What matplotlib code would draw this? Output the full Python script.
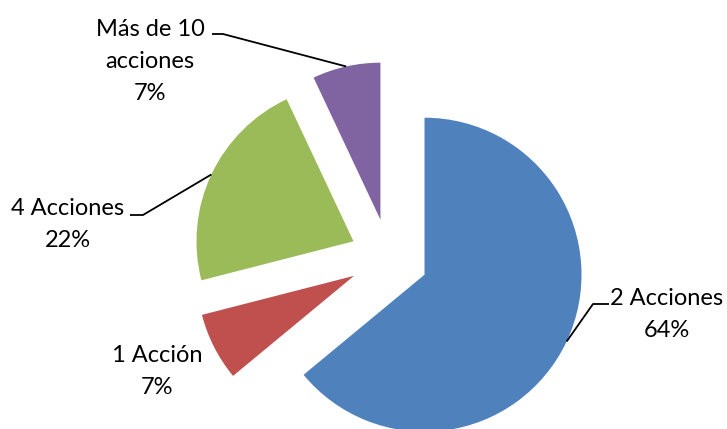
import matplotlib.pyplot as plt
import numpy as np

plt.rcParams['font.family'] = ['Lato', 'DejaVu Sans']

labels = ['2 Acciones', '1 Acción', '4 Acciones', 'Más de 10\nacciones']
values = [64, 7, 22, 7]
percents = ['64%', '7%', '22%', '7%']
colors = ['#4F81BD', '#C0504D', '#9BBB59', '#8064A2']

W, H = 727, 429
R = 157            # pie radius in pixels
cx, cy = 389, 258  # pie centre in pixels (from top-left)


def px(x, y):
    # pixel coords (top-left origin) -> data coords
    return (x - cx) / R, (cy - y) / R


fig = plt.figure(figsize=(W / 100, H / 100), dpi=100)
ax = fig.add_axes([0, 0, 1, 1])
wedges, _ = ax.pie(values, colors=colors, startangle=90, counterclock=False,
                   explode=[0.25] * 4, wedgeprops=dict(linewidth=0))
ax.set_xlim(-cx / R, (W - cx) / R)
ax.set_ylim(-(H - cy) / R, cy / R)
ax.axis('off')

# label placement: (centre x, first baseline y) in pixels, leader knee/end or None
label_pos = [(667, 305), (157, 362), (68, 215), (150, 36)]
leaders = [((609, 304), (593, 304)), None, ((130, 215), (143, 215)), ((212, 34), (223, 34))]
line_gap = 32

for w, lab, pc, (lx, ly), ld in zip(wedges, labels, percents, label_pos, leaders):
    lines = lab.split('\n') + [pc]
    for k, s in enumerate(lines):
        tx, ty = px(lx, ly + k * line_gap)
        ax.text(tx, ty, s, ha='center', va='baseline', fontsize=17, color='black')
    if ld is not None:
        th = np.deg2rad((w.theta1 + w.theta2) / 2)
        ax0 = w.center[0] + w.r * np.cos(th)
        ay0 = w.center[1] + w.r * np.sin(th)
        p1 = px(*ld[0])
        p2 = px(*ld[1])
        ax.plot([p1[0], p2[0], ax0], [p1[1], p2[1], ay0], color='black', lw=1.3,
                solid_capstyle='butt')

fig.savefig('out.png', dpi=100)
